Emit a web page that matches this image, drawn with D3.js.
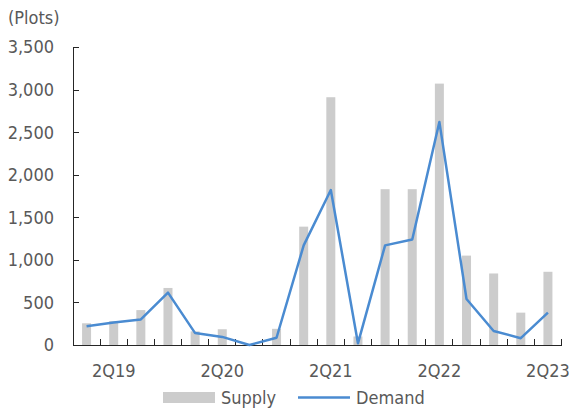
<!DOCTYPE html>
<html>
<head>
<meta charset="utf-8">
<script src="https://cdn.jsdelivr.net/npm/d3@7"></script>
<style>
  html, body { margin: 0; padding: 0; background: #fff; }
  svg text { font-family: "DejaVu Sans Condensed", "DejaVu Sans", sans-serif; font-stretch: condensed; }
</style>
</head>
<body>
<svg id="chart" width="569" height="410"></svg>
<script>
// Quarterly plots: supply vs demand
const quarters = ["1Q19","2Q19","3Q19","4Q19","1Q20","2Q20","3Q20","4Q20",
                  "1Q21","2Q21","3Q21","4Q21","1Q22","2Q22","3Q22","4Q22",
                  "1Q23","2Q23"];
const supply = [255, 280, 410, 670, 160, 185, 0, 190,
                1390, 2910, 100, 1830, 1830, 3070, 1050, 840,
                380, 860];
const demand = [220, 265, 300, 615, 140, 95, 0, 85,
                1170, 1820, 20, 1170, 1240, 2620, 540, 165,
                80, 380];
const yTicks = [0, 500, 1000, 1500, 2000, 2500, 3000, 3500];
const xLabels = ["2Q19", "2Q20", "2Q21", "2Q22", "2Q23"];

const svg = d3.select("#chart");
const plotLeft = 73, plotRight = 561.5, plotTop = 47, plotBottom = 345;
const axisColor = "#262626", textColor = "#595959";
const lineColor = "#4a8bd1", barColor = "#cccccc";

const x = d3.scaleBand().domain(quarters).range([plotLeft, plotRight]).paddingInner(0).paddingOuter(0);
const y = d3.scaleLinear().domain([0, 3500]).range([plotBottom, plotTop]);
const barW = 9;

// supply bars
svg.append("g").selectAll("rect").data(quarters).join("rect")
  .attr("x", (q) => x(q) + x.bandwidth() / 2 - barW / 2)
  .attr("width", barW)
  .attr("y", (q, i) => y(supply[i]))
  .attr("height", (q, i) => y(0) - y(supply[i]))
  .attr("fill", barColor);

// y axis with inward ticks
const yAxis = svg.append("g").attr("transform", `translate(${plotLeft},0)`)
  .call(d3.axisRight(y).tickValues(yTicks).tickSize(6).tickFormat(""));
yAxis.select(".domain").attr("d", `M0,${plotTop}V${plotBottom}`);
yAxis.selectAll("line, path").attr("stroke", axisColor).attr("shape-rendering", "crispEdges");

svg.append("g").selectAll("text").data(yTicks).join("text")
  .attr("x", 54).attr("y", (d) => y(d)).attr("dy", "0.36em")
  .attr("text-anchor", "end").attr("font-size", 18).attr("fill", textColor)
  .text(d3.format(","));

// x axis: ticks at quarter boundaries, pointing inward
const xAxis = svg.append("g").attr("transform", `translate(0,${plotBottom})`);
xAxis.append("path").attr("d", `M${plotLeft},0H${plotRight}`)
  .attr("stroke", axisColor).attr("fill", "none").attr("shape-rendering", "crispEdges");
xAxis.selectAll("line").data(quarters).join("line")
  .attr("x1", (q) => x(q) + x.bandwidth()).attr("x2", (q) => x(q) + x.bandwidth())
  .attr("y1", 0).attr("y2", -6).attr("stroke", axisColor).attr("shape-rendering", "crispEdges");

svg.append("g").selectAll("text").data(xLabels).join("text")
  .attr("x", (q) => x(q) + x.bandwidth() / 2).attr("y", 377)
  .attr("text-anchor", "middle").attr("font-size", 18).attr("fill", textColor)
  .text((d) => d);

// demand line
const line = d3.line()
  .x((d, i) => x(quarters[i]) + x.bandwidth() / 2)
  .y((d) => y(d));
svg.append("path").datum(demand)
  .attr("d", line).attr("fill", "none")
  .attr("stroke", lineColor).attr("stroke-width", 2.5).attr("stroke-linejoin", "round");

// unit label
svg.append("text").attr("x", 8).attr("y", 24).attr("font-size", 18).attr("fill", textColor).text("(Plots)");

// legend
const lg = svg.append("g");
lg.append("rect").attr("x", 163).attr("y", 392).attr("width", 52).attr("height", 11).attr("fill", barColor);
lg.append("text").attr("x", 221).attr("y", 404).attr("font-size", 18).attr("fill", textColor).text("Supply");
lg.append("line").attr("x1", 298).attr("x2", 350).attr("y1", 397.5).attr("y2", 397.5)
  .attr("stroke", lineColor).attr("stroke-width", 2.5);
lg.append("text").attr("x", 356).attr("y", 404).attr("font-size", 18).attr("fill", textColor).text("Demand");
</script>
</body>
</html>
